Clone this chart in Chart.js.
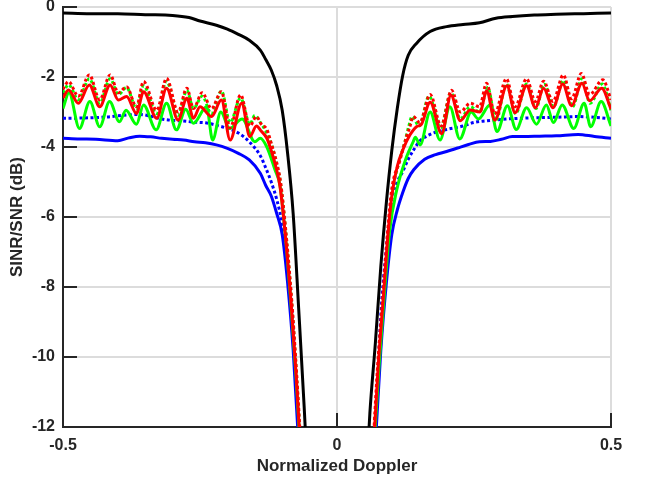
<!DOCTYPE html>
<html>
<head>
<meta charset="utf-8">
<script src="https://cdn.jsdelivr.net/npm/chart.js@4"></script>
<style>
  body { margin: 0; background: #fff; }
  canvas { display: block; }
</style>
</head>
<body>
<canvas id="sinrChart" width="646" height="482"></canvas>
<script>
// axis ticks
const xTicks = [-0.5, 0, 0.5];
const yTicks = [-12, -10, -8, -6, -4, -2, 0];

// black solid
const blackF = [-0.5, -0.45, -0.4, -0.35, -0.3, -0.27, -0.25, -0.22, -0.2, -0.18, -0.16, -0.14, -0.13, -0.12, -0.11, -0.1, -0.09, -0.08, -0.07, -0.06, -0.05,
  0.05, 0.06, 0.07, 0.08, 0.09, 0.1, 0.11, 0.12, 0.13, 0.145, 0.17, 0.2, 0.23, 0.26, 0.29, 0.32, 0.36, 0.4, 0.45, 0.5];
const blackDb = [-0.17, -0.19, -0.19, -0.22, -0.24, -0.3, -0.4, -0.52, -0.63, -0.78, -0.95, -1.23, -1.5, -1.8, -2.25, -2.95, -4.2, -5.9, -8.6, -11.4, -14.5,
  -14.5, -11.6, -9.6, -7.4, -5.6, -4.1, -2.9, -1.95, -1.38, -1.04, -0.7, -0.56, -0.5, -0.45, -0.32, -0.27, -0.23, -0.21, -0.19, -0.17];

// blue solid
const blueF = [-0.5, -0.47, -0.44, -0.4, -0.38, -0.36, -0.34, -0.32, -0.3, -0.28, -0.26, -0.24, -0.22, -0.2, -0.18, -0.16, -0.14, -0.13, -0.12, -0.11, -0.1, -0.09, -0.08, -0.07, -0.065,
  0.065, 0.07, 0.08, 0.09, 0.1, 0.11, 0.12, 0.13, 0.14, 0.16, 0.18, 0.2, 0.22, 0.24, 0.26, 0.28, 0.3, 0.32, 0.34, 0.37, 0.4, 0.44, 0.47, 0.5];
const blueDb = [-3.75, -3.77, -3.78, -3.82, -3.74, -3.69, -3.71, -3.75, -3.78, -3.8, -3.85, -3.88, -3.94, -4.04, -4.18, -4.37, -4.75, -5.1, -5.4, -5.9, -6.5, -7.9, -9.8, -12.5, -14,
  -14, -12.5, -9.8, -7.9, -6.5, -5.8, -5.3, -4.9, -4.65, -4.35, -4.22, -4.13, -4.03, -3.93, -3.85, -3.84, -3.78, -3.7, -3.7, -3.69, -3.68, -3.64, -3.7, -3.75];

// blue dotted
const blueDotF = [-0.5, -0.46, -0.42, -0.38, -0.36, -0.34, -0.32, -0.3, -0.28, -0.26, -0.24, -0.22, -0.2, -0.18, -0.16, -0.14, -0.13, -0.12, -0.11, -0.1, -0.09, -0.08, -0.07, -0.065,
  0.065, 0.07, 0.08, 0.09, 0.1, 0.11, 0.12, 0.13, 0.14, 0.15, 0.17, 0.2, 0.23, 0.25, 0.28, 0.31, 0.35, 0.4, 0.44, 0.47, 0.5];
const blueDotDb = [-3.18, -3.17, -3.14, -3.08, -3.07, -3.12, -3.2, -3.24, -3.26, -3.29, -3.31, -3.38, -3.47, -3.6, -3.85, -4.25, -4.6, -5.0, -5.5, -6.2, -7.4, -9.2, -12.2, -14,
  -14, -12.2, -8.8, -6.9, -5.5, -5.0, -4.7, -4.35, -4.08, -3.85, -3.64, -3.5, -3.4, -3.3, -3.24, -3.2, -3.17, -3.15, -3.13, -3.15, -3.2];

// green solid
const greenF = [-0.5, -0.489, -0.47, -0.451, -0.433, -0.415, -0.397, -0.385, -0.366, -0.353, -0.33, -0.311, -0.293, -0.276, -0.262, -0.238, -0.227, -0.212, -0.196, -0.173, -0.15, -0.14, -0.128, -0.113, -0.104, -0.095, -0.084, -0.075, -0.069, -0.062,
  0.063, 0.069, 0.077, 0.087, 0.096, 0.109, 0.127, 0.139, 0.143, 0.1515, 0.17, 0.188, 0.206, 0.224, 0.245, 0.258, 0.279, 0.292, 0.311, 0.327, 0.346, 0.364, 0.382, 0.395, 0.411, 0.432, 0.451, 0.463, 0.482, 0.5];
const greenDb = [-2.9, -2.45, -3.47, -2.7, -3.42, -2.7, -3.28, -2.95, -3.35, -2.8, -3.51, -2.75, -3.51, -2.92, -3.32, -2.85, -3.8, -3.0, -3.47, -3.2, -3.85, -3.75, -4.0, -4.66, -5.1, -6.4, -8.5, -10.5, -12.1, -14,
  -14, -12.2, -10.2, -8.1, -6.4, -5.23, -4.28, -3.85, -3.72, -3.94, -3.0, -3.8, -2.85, -3.77, -3.0, -3.2, -2.8, -3.56, -2.82, -3.5, -2.88, -3.35, -2.8, -3.3, -2.8, -3.47, -2.75, -3.42, -2.7, -3.4];

// green dotted
const greenDotF = [-0.5, -0.49, -0.472, -0.452, -0.433, -0.414, -0.399, -0.384, -0.366, -0.353, -0.329, -0.311, -0.29, -0.274, -0.262, -0.246, -0.229, -0.211, -0.195, -0.176, -0.159, -0.15, -0.14, -0.128, -0.119, -0.11, -0.103, -0.094, -0.083, -0.074, -0.068, -0.061,
  0.062, 0.068, 0.075, 0.085, 0.094, 0.101, 0.113, 0.124, 0.131, 0.137, 0.15, 0.168, 0.189, 0.208, 0.225, 0.243, 0.26, 0.275, 0.29, 0.309, 0.326, 0.346, 0.363, 0.378, 0.395, 0.413, 0.43, 0.447, 0.462, 0.484, 0.5];
const greenDotDb = [-2.45, -2.22, -2.65, -2.05, -2.75, -2.05, -2.5, -2.3, -2.9, -2.25, -3.05, -2.12, -3.1, -2.38, -2.9, -2.55, -3.05, -2.4, -3.3, -2.6, -3.35, -3.1, -3.3, -3.6, -3.95, -4.5, -5.05, -6.35, -8.4, -10.5, -12.1, -14,
  -14, -12.2, -10.3, -8.2, -6.45, -5.3, -4.45, -3.85, -3.4, -3.13, -3.4, -2.55, -3.45, -2.45, -3.2, -2.85, -3.0, -2.3, -3.25, -2.2, -3.05, -2.2, -2.9, -2.2, -2.85, -2.1, -2.85, -2.05, -2.75, -2.2, -2.95];

// red solid
const redF = [-0.5, -0.49, -0.472, -0.452, -0.433, -0.414, -0.399, -0.384, -0.366, -0.353, -0.329, -0.311, -0.29, -0.274, -0.262, -0.25, -0.229, -0.211, -0.195, -0.174, -0.159, -0.147, -0.138, -0.128, -0.119, -0.11, -0.104, -0.095, -0.084, -0.075, -0.069, -0.062,
  0.062, 0.068, 0.075, 0.085, 0.093, 0.1, 0.11, 0.121, 0.133, 0.145, 0.154, 0.17, 0.191, 0.208, 0.225, 0.243, 0.261, 0.273, 0.288, 0.31, 0.325, 0.346, 0.362, 0.377, 0.394, 0.412, 0.428, 0.447, 0.461, 0.483, 0.5];
const redDb = [-2.6, -2.37, -2.75, -2.23, -2.85, -2.23, -2.66, -2.56, -3.04, -2.42, -3.18, -2.32, -3.23, -2.61, -3.18, -2.85, -3.13, -2.66, -3.8, -2.75, -3.7, -3.4, -3.55, -3.75, -4.15, -4.66, -5.13, -6.4, -8.4, -10.4, -12.0, -14,
  -14, -12.2, -10.3, -8.2, -6.5, -5.4, -4.55, -4.05, -3.66, -3.42, -3.35, -2.72, -3.62, -2.52, -3.25, -2.94, -3.0, -2.4, -3.23, -2.25, -3.02, -2.25, -2.88, -2.32, -2.88, -2.2, -2.82, -2.18, -2.68, -2.32, -2.92];

// red dotted
const redDotF = [-0.5, -0.49, -0.472, -0.452, -0.433, -0.414, -0.399, -0.384, -0.366, -0.353, -0.329, -0.311, -0.29, -0.274, -0.262, -0.246, -0.229, -0.211, -0.195, -0.176, -0.159, -0.147, -0.138, -0.128, -0.119, -0.11, -0.103, -0.094, -0.083, -0.074, -0.068, -0.061,
  0.061, 0.067, 0.074, 0.084, 0.092, 0.0997, 0.115, 0.127, 0.133, 0.139, 0.151, 0.17, 0.19, 0.209, 0.225, 0.243, 0.26, 0.273, 0.288, 0.309, 0.325, 0.346, 0.362, 0.377, 0.394, 0.413, 0.428, 0.446, 0.461, 0.485, 0.5];
const redDotDb = [-2.35, -2.13, -2.55, -1.94, -2.65, -1.94, -2.45, -2.28, -2.85, -2.13, -2.95, -2.04, -3.0, -2.32, -2.9, -2.45, -2.9, -2.42, -3.45, -2.51, -3.4, -3.13, -3.35, -3.5, -3.95, -4.45, -5.0, -6.3, -8.3, -10.4, -12.0, -14,
  -14, -12.2, -10.3, -8.2, -6.5, -5.23, -4.37, -3.7, -3.42, -3.13, -3.3, -2.5, -3.4, -2.38, -3.0, -2.75, -2.85, -2.18, -3.05, -2.05, -2.85, -2.05, -2.7, -2.12, -2.7, -1.94, -2.62, -1.9, -2.5, -2.08, -2.65];

// pair up f / dB, breaking the line across the notch at zero Doppler
function toPoints(f, db) {
  const pts = [];
  f.forEach((x, i) => {
    if (i > 0 && f[i - 1] < 0 && x > 0) pts.push({ x: 0, y: null });
    pts.push({ x: x, y: db[i] });
  });
  return pts;
}

function line(f, db, color, dotted) {
  return {
    data: toPoints(f, db),
    borderColor: color,
    borderWidth: 3,
    borderDash: dotted ? [3, 2.5] : [],
    pointRadius: 0,
    cubicInterpolationMode: 'monotone',
    spanGaps: false,
    clip: 0
  };
}

const axisColor = '#262626';
const gridColor = '#dcdcdc';

// MATLAB style ticks pointing into the plot
const insideTicks = {
  id: 'insideTicks',
  afterDatasetsDraw(chart) {
    const { ctx, chartArea: a, scales: { x, y } } = chart;
    ctx.save();
    ctx.strokeStyle = axisColor;
    ctx.lineWidth = 2;
    ctx.beginPath();
    y.ticks.forEach(t => {
      const py = y.getPixelForValue(t.value);
      ctx.moveTo(a.left, py);
      ctx.lineTo(a.left + 14, py);
    });
    x.ticks.forEach(t => {
      const px = x.getPixelForValue(t.value);
      ctx.moveTo(px, a.bottom);
      ctx.lineTo(px, a.bottom - 14);
    });
    ctx.stroke();
    ctx.restore();
  }
};

const tickFont = { family: 'Liberation Sans, Arial, sans-serif', size: 16, weight: 'bold', lineHeight: 1 };
const titleFont = { family: 'Liberation Sans, Arial, sans-serif', size: 17, weight: 'bold', lineHeight: 1.2 };

new Chart(document.getElementById('sinrChart'), {
  type: 'line',
  data: {
    datasets: [
      line(redDotF, redDotDb, '#ff0000', true),
      line(redF, redDb, '#ff0000', false),
      line(greenDotF, greenDotDb, '#00ff00', true),
      line(greenF, greenDb, '#00ff00', false),
      line(blueDotF, blueDotDb, '#0000ff', true),
      line(blueF, blueDb, '#0000ff', false),
      line(blackF, blackDb, '#000000', false)
    ]
  },
  options: {
    responsive: false,
    animation: false,
    devicePixelRatio: 1,
    layout: { padding: { left: 0, top: 7, right: 35, bottom: 0 } },
    plugins: { legend: { display: false }, tooltip: { enabled: false } },
    scales: {
      x: {
        type: 'linear',
        min: -0.5,
        max: 0.5,
        afterBuildTicks: s => { s.ticks = xTicks.map(v => ({ value: v })); },
        afterFit: s => { s.height = 55; s.paddingLeft = 0; s.paddingRight = 0; },
        ticks: { color: axisColor, font: tickFont, padding: 11, maxRotation: 0, callback: v => String(v) },
        grid: { color: gridColor, lineWidth: 2, drawTicks: false },
        border: { display: true, color: axisColor, width: 2 },
        title: { display: true, text: 'Normalized Doppler', color: axisColor, font: titleFont, padding: { top: 0, bottom: 5 } }
      },
      y: {
        type: 'linear',
        min: -12,
        max: 0,
        afterBuildTicks: s => { s.ticks = yTicks.map(v => ({ value: v })); },
        afterFit: s => { s.width = 63; s.paddingTop = 0; s.paddingBottom = 0; },
        ticks: { color: axisColor, font: tickFont, padding: 8, callback: v => String(v) },
        grid: { color: gridColor, lineWidth: 2, drawTicks: false },
        border: { display: true, color: axisColor, width: 2 },
        title: { display: true, text: 'SINR/SNR (dB)', color: axisColor, font: titleFont, padding: { top: 7, bottom: 0 } }
      }
    }
  },
  plugins: [insideTicks]
});
</script>
</body>
</html>
